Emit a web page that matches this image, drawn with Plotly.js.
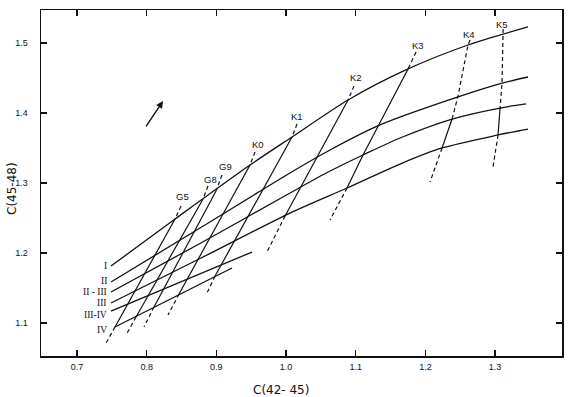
<!DOCTYPE html>
<html>
<head>
<meta charset="utf-8">
<script src="https://cdn.plot.ly/plotly-3.0.1.min.js"></script>
<style>html,body{margin:0;padding:0;background:#fff;}#chart{width:570px;height:397px;}</style>
</head>
<body>
<div id="chart"></div>
<script>
// Luminosity-class curves (C(42-45), C(45-48))
const lumClasses = ['I', 'II', 'II - III', 'III', 'III-IV', 'IV'];
const lumX_I    = [0.7488, 0.8407, 0.9483, 1.0086, 1.0890, 1.1751, 1.2612, 1.3473];
const lumY_I    = [1.1814, 1.2486, 1.3257, 1.3657, 1.4186, 1.4629, 1.4971, 1.5229];
const lumX_II   = [0.7488, 0.8765, 1.0057, 1.0631, 1.1349, 1.2469, 1.3115, 1.3473];
const lumY_II   = [1.1586, 1.2357, 1.3143, 1.3471, 1.3829, 1.4229, 1.4429, 1.4514];
const lumX_IIIII = [0.7488, 0.8765, 1.0057, 1.0631, 1.1105, 1.1636, 1.2383, 1.3072, 1.3445];
const lumY_IIIII = [1.1443, 1.2136, 1.2857, 1.3171, 1.3400, 1.3643, 1.3914, 1.4071, 1.4129];
const lumX_III  = [0.7488, 0.8765, 1.0057, 1.0875, 1.1636, 1.2239, 1.3043, 1.3473];
const lumY_III  = [1.1286, 1.1921, 1.2571, 1.2929, 1.3271, 1.3500, 1.3686, 1.3771];
const lumX_IIIIV = [0.7488, 0.9512];
const lumY_IIIIV = [1.1171, 1.2014];
const lumX_IV   = [0.7545, 0.9225];
const lumY_IV   = [1.0943, 1.1786];
// label anchor (right end) of each class
const lumLabelX = [0.7445, 0.7445, 0.7445, 0.7445, 0.7445, 0.7445];
const lumLabelY = [1.1814, 1.1600, 1.1440, 1.1286, 1.1114, 1.0900];

// Spectral-type lines: points from top (dashed end) to bottom (dashed end)
const specTypes = ['G5', 'G8', 'G9', 'K0', 'K1', 'K2', 'K3', 'K4', 'K5'];
const specX = [
  [0.8493, 0.8407, 0.7545, 0.7402],
  [0.8880, 0.8809, 0.7847, 0.7703],
  [0.9081, 0.8995, 0.8105, 0.7962],
  [0.9555, 0.9483, 0.8464, 0.8306],
  [1.0158, 1.0086, 0.8981, 0.8866],
  [1.0976, 1.0890, 1.0445, 1.0230, 0.9986, 0.9727],
  [1.1866, 1.1751, 1.1320, 1.1105, 1.0875, 1.0631],
  [1.2641, 1.2612, 1.2469, 1.2383, 1.2239, 1.2067],
  [1.3115, 1.3115, 1.3100, 1.3072, 1.3043, 1.2971]
];
const specY = [
  [1.2671, 1.2486, 1.0943, 1.0686],
  [1.2957, 1.2771, 1.1086, 1.0829],
  [1.3114, 1.2886, 1.1229, 1.0943],
  [1.3443, 1.3257, 1.1414, 1.1114],
  [1.3843, 1.3657, 1.1671, 1.1429],
  [1.4386, 1.4186, 1.3371, 1.2957, 1.2529, 1.2014],
  [1.4871, 1.4629, 1.3800, 1.3400, 1.2929, 1.2471],
  [1.5043, 1.4971, 1.4243, 1.3914, 1.3500, 1.3014],
  [1.5200, 1.5143, 1.4429, 1.4071, 1.3686, 1.3229]
];
// index range of the solid part of each line
const specSolid = [[1,2],[1,2],[1,2],[1,2],[1,2],[1,4],[1,4],[3,4],[3,4]];
const specLabelX = [0.8521, 0.8909, 0.9124, 0.9598, 1.0158, 1.1005, 1.1894, 1.2627, 1.3100];
const specLabelY = [1.2814, 1.3057, 1.3229, 1.3543, 1.3943, 1.4500, 1.4971, 1.5114, 1.5271];

// reddening arrow (tail -> head)
const arrowTail = [0.7976, 1.3786];
const arrowHead = [0.8234, 1.4171];

const xTicks = [0.7, 0.8, 0.9, 1.0, 1.1, 1.2, 1.3];
const xTickText = ['0.7', '0.8', '0.9', '1.0', '1.1', '1.2', '1.3'];
const yTicks = [1.1, 1.2, 1.3, 1.4, 1.5];
const yTickText = ['1.1', '1.2', '1.3', '1.4', '1.5'];

const ink = '#111';
const traces = [];
const lumXs = [lumX_I, lumX_II, lumX_IIIII, lumX_III, lumX_IIIIV, lumX_IV];
const lumYs = [lumY_I, lumY_II, lumY_IIIII, lumY_III, lumY_IIIIV, lumY_IV];
lumXs.forEach((xs, i) => {
  traces.push({x: xs, y: lumYs[i], mode: 'lines', type: 'scatter', name: lumClasses[i],
    line: {color: ink, width: 1.3, shape: 'spline', smoothing: 0.8}, hoverinfo: 'skip'});
});
specTypes.forEach((t, i) => {
  const xs = specX[i], ys = specY[i], s = specSolid[i];
  traces.push({x: xs.slice(0, s[0] + 1), y: ys.slice(0, s[0] + 1), mode: 'lines', type: 'scatter',
    line: {color: ink, width: 1.2, dash: '4px,3px'}, hoverinfo: 'skip'});
  traces.push({x: xs.slice(s[0], s[1] + 1), y: ys.slice(s[0], s[1] + 1), mode: 'lines', type: 'scatter',
    line: {color: ink, width: 1.2}, hoverinfo: 'skip', name: t});
  traces.push({x: xs.slice(s[1]), y: ys.slice(s[1]), mode: 'lines', type: 'scatter',
    line: {color: ink, width: 1.2, dash: '4px,3px'}, hoverinfo: 'skip'});
});

const annotations = [];
lumClasses.forEach((c, i) => {
  annotations.push({x: lumLabelX[i], y: lumLabelY[i], xref: 'x', yref: 'y', text: c, showarrow: false,
    xanchor: 'right', yanchor: 'middle', borderpad: 0,
    font: {family: 'Liberation Serif', size: 9.5, color: ink}});
});
specTypes.forEach((t, i) => {
  annotations.push({x: specLabelX[i], y: specLabelY[i], xref: 'x', yref: 'y', text: t, showarrow: false,
    xanchor: 'center', yanchor: 'middle', font: {family: 'Liberation Sans', size: 9.5, color: ink}});
});
annotations.push({x: arrowHead[0], y: arrowHead[1], ax: arrowTail[0], ay: arrowTail[1],
  xref: 'x', yref: 'y', axref: 'x', ayref: 'y', text: '', showarrow: true,
  arrowhead: 2, arrowsize: 1, arrowwidth: 1.4, arrowcolor: ink});
annotations.push({x: 0.4607, y: -0.098, xref: 'paper', yref: 'paper', text: 'C(42- 45)', showarrow: false,
  xanchor: 'center', yanchor: 'middle', font: {family: 'DejaVu Sans', size: 12, color: ink}});
annotations.push({x: -0.0557, y: 0.4855, xref: 'paper', yref: 'paper', text: 'C(45-48)', showarrow: false,
  textangle: -90, xanchor: 'center', yanchor: 'middle', font: {family: 'DejaVu Sans', size: 12, color: ink}});

const axisCommon = {showline: true, linecolor: ink, linewidth: 1.5, mirror: 'ticks', ticks: 'inside',
  ticklen: 6, tickwidth: 1.2, tickcolor: ink, showgrid: false, zeroline: false,
  tickfont: {family: 'Liberation Sans', size: 9, color: ink}};

const layout = {
  width: 570, height: 397,
  margin: {l: 41, r: 8, t: 10, b: 41},
  paper_bgcolor: '#fff', plot_bgcolor: '#fff',
  showlegend: false,
  xaxis: Object.assign({}, axisCommon, {range: [0.6483, 1.3961], tickvals: xTicks, ticktext: xTickText,
    ticklabelstandoff: 2}),
  yaxis: Object.assign({}, axisCommon, {range: [1.0529, 1.5471], tickvals: yTicks, ticktext: yTickText,
    ticklabelstandoff: 10}),
  annotations: annotations
};

Plotly.newPlot('chart', traces, layout, {staticPlot: true, displayModeBar: false});
</script>
</body>
</html>
